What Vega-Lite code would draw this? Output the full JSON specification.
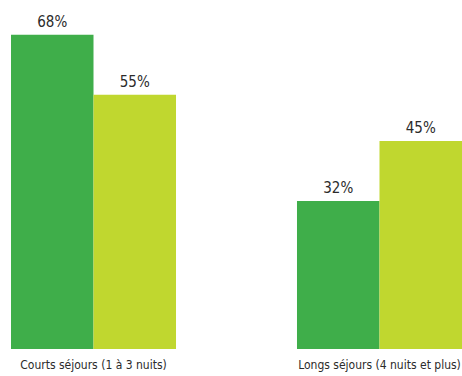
{
  "$schema": "https://vega.github.io/schema/vega-lite/v6.json",
  "width": 451,
  "height": 349,
  "padding": {"left": 11, "top": 0, "right": 0, "bottom": 27},
  "autosize": {"type": "none"},
  "background": "white",
  "data": {
    "values": [
      {"groupe": "Courts séjours (1 à 3 nuits)", "serie": "A", "valeur": 68, "etiquette": "68%"},
      {"groupe": "Courts séjours (1 à 3 nuits)", "serie": "B", "valeur": 55, "etiquette": "55%"},
      {"groupe": "Longs séjours (4 nuits et plus)", "serie": "A", "valeur": 32, "etiquette": "32%"},
      {"groupe": "Longs séjours (4 nuits et plus)", "serie": "B", "valeur": 45, "etiquette": "45%"}
    ]
  },
  "encoding": {
    "x": {
      "field": "groupe",
      "type": "nominal",
      "sort": null,
      "scale": {"paddingInner": 0.423, "paddingOuter": 0},
      "axis": {
        "title": null,
        "domain": false,
        "ticks": false,
        "labelAngle": 0,
        "labelFont": "DejaVu Sans Condensed",
        "labelFontSize": 12,
        "labelColor": "#2b2b2b",
        "labelBaseline": "top",
        "labelPadding": 10,
        "labelLimit": 300
      }
    },
    "xOffset": {
      "field": "serie",
      "type": "nominal",
      "scale": {"paddingInner": 0, "paddingOuter": 0}
    },
    "y": {
      "field": "valeur",
      "type": "quantitative",
      "scale": {"domain": [0, 75.5], "nice": false, "zero": true},
      "axis": null
    }
  },
  "layer": [
    {
      "mark": {"type": "bar"},
      "encoding": {
        "color": {
          "field": "serie",
          "type": "nominal",
          "scale": {"domain": ["A", "B"], "range": ["#3fae4a", "#c0d72f"]},
          "legend": null
        }
      }
    },
    {
      "mark": {
        "type": "text",
        "baseline": "alphabetic",
        "dy": -8,
        "font": "DejaVu Sans Condensed",
        "fontSize": 15,
        "color": "#2b2b2b"
      },
      "encoding": {
        "text": {"field": "etiquette", "type": "nominal"}
      }
    }
  ],
  "config": {"view": {"stroke": null}}
}
